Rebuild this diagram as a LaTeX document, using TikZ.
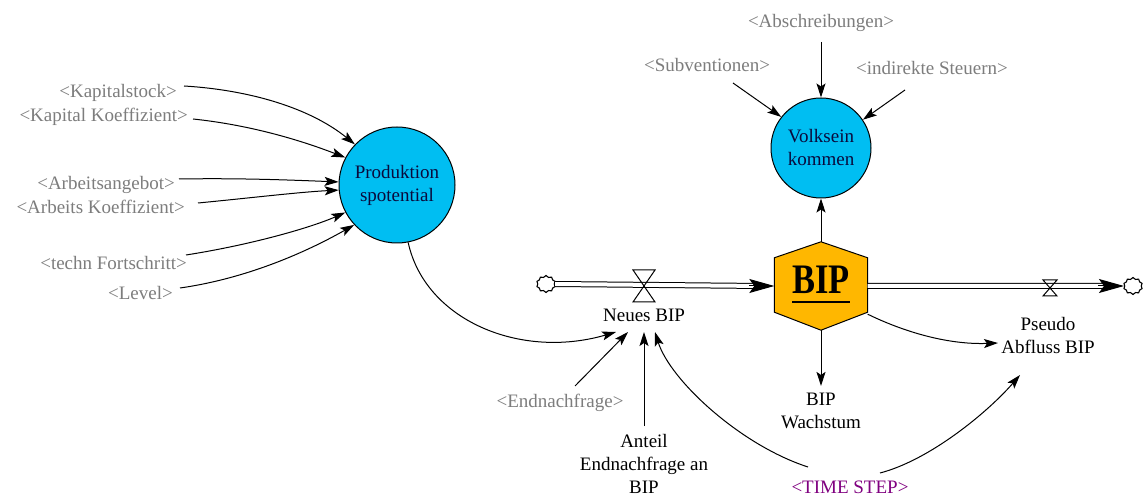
\documentclass[tikz,border=0pt]{standalone}
\usepackage{fontspec}
\setmainfont{Liberation Serif}
\usetikzlibrary{arrows.meta,shapes.symbols}
\definecolor{shadowtext}{RGB}{125,125,125}
\definecolor{auxblue}{RGB}{0,190,242}
\definecolor{stockgold}{RGB}{255,183,0}
\definecolor{timepurple}{RGB}{128,0,128}
\definecolor{auxtext}{RGB}{10,10,60}

\begin{document}
\begin{tikzpicture}[x=1pt,y=-1pt,
  every node/.style={font=\fontsize{19}{23}\selectfont, inner sep=0pt, align=center},
  shadow/.style={text=shadowtext},
  aux/.style={circle, draw, fill=auxblue, line width=1pt, text=auxtext},
  link/.style={draw, line width=1pt, -{Stealth[length=14pt,width=9pt,inset=3pt]}},
  pipe/.style={draw, double, double distance=4pt, line width=1pt},
  pipetip/.style={draw, line width=1pt, -{Stealth[length=25pt,width=14pt,inset=5pt]}},
  valve/.style={draw, line width=1pt},
  sink/.style={cloud, cloud puffs=10, cloud ignores aspect, draw, line width=1.1pt, minimum width=19pt, minimum height=17pt, inner sep=0pt}
]
\useasboundingbox (0,0) rectangle (1144,502);
\fill[white] (0,0) rectangle (1144,502);

% auxiliaries
\node[aux, minimum size=116pt] (pp) at (397,185) {Produktion\\spotential};
\node[aux, minimum size=100pt] (vk) at (821,148) {Volksein\\kommen};

% stock BIP as a hexagon
\node[minimum width=93pt, minimum height=88pt] (bip) at (821,286) {};
\draw[fill=stockgold, line width=1pt] (bip.north) -- ([yshift=-16pt]bip.north east)
  -- ([yshift=18pt]bip.south east) -- (bip.south) -- ([yshift=18pt]bip.south west)
  -- ([yshift=-16pt]bip.north west) -- cycle;
\node[font=\fontsize{42}{42}\selectfont\bfseries] (biptxt) at (821,280) {\scalebox{0.82}[1]{BIP}};
\draw[line width=2.5pt] ([yshift=-8pt]biptxt.south west) -- ([yshift=-8pt]biptxt.south east);

% sources and sinks
\node[sink] (cl) at (546,284) {};
\node[sink] (cr) at (1133,286) {};

% inflow pipe
\draw[pipe] (cl.east) -- ([xshift=-12pt]bip.west);
\draw[pipetip] ([xshift=-25pt]bip.west) -- (bip.west);
\coordinate (v1) at (644,286);
\draw[valve] ([shift={(-11,-16)}]v1) -- ([shift={(11,-16)}]v1) -- ([shift={(-11,16)}]v1) -- ([shift={(11,16)}]v1) -- cycle;
\node (nb) at (644,315) {Neues BIP};

% outflow pipe
\draw[pipe] (bip.east) -- ([xshift=-14pt]cr.west);
\draw[pipetip] ([xshift=-26pt]cr.west) -- (cr.west);
\coordinate (v2) at (1050,288);
\draw[valve] ([shift={(-7,-8)}]v2) -- ([shift={(7,-8)}]v2) -- ([shift={(-7,8)}]v2) -- ([shift={(7,8)}]v2) -- cycle;
\node (ps) at (1048,336) {Pseudo\\Abfluss BIP};

% shadow variables feeding Produktionspotential
\node[shadow, anchor=east] (kst) at (177,93) {<Kapitalstock>};
\node[shadow, anchor=east] (kko) at (188,117) {<Kapital Koeffizient>};
\node[shadow, anchor=east] (arb) at (175,185) {<Arbeitsangebot>};
\node[shadow, anchor=east] (ako) at (185,207) {<Arbeits Koeffizient>};
\node[shadow, anchor=east] (tfs) at (187,263) {<techn Fortschritt>};
\node[shadow, anchor=east] (lev) at (173,293) {<Level>};

\draw[link] ([shift={(7,-7)}]kst.east) .. controls (250,90) and (310,108) .. (pp.136);
\draw[link] ([shift={(5,2)}]kko.east) .. controls (250,125) and (300,140) .. (pp.152);
\draw[link] ([shift={(4,-6)}]arb.east) .. controls (240,178) and (290,180) .. (pp.177);
\draw[link] ([shift={(13,-4)}]ako.east) .. controls (250,198) and (300,192) .. (pp.185);
\draw[link] ([shift={(-1,-8)}]tfs.east) .. controls (250,245) and (310,228) .. (pp.208);
\draw[link] ([shift={(7,-5)}]lev.east) .. controls (250,278) and (310,250) .. (pp.223);

% shadow variables feeding Volkseinkommen
\node[shadow] (abs) at (821,23) {<Abschreibungen>};
\node[shadow] (sub) at (707,65) {<Subventionen>};
\node[shadow] (ist) at (932,68) {<indirekte Steuern>};
\draw[link] ([yshift=-10pt]abs.south) -- (vk.north);
\draw[link] ([shift={(26,18)}]sub.center) -- (vk.142);
\draw[link] ([shift={(-27,22)}]ist.center) -- (vk.34);

% BIP links
\draw[link] (bip.north) -- (vk.south);
\node (bw) at (821,411) {\fontsize{19}{18}\selectfont BIP\\Wachstum};
\draw[link] (bip.south) -- ([yshift=7pt]bw.north);
\draw[link] ([yshift=16pt]bip.south east) .. controls (900,330) and (945,345) .. ([shift={(-50,7)}]ps.center);

% inputs to Neues BIP
\node[shadow] (endn) at (560,403) {<Endnachfrage>};
\node (ant) at (644,464) {\fontsize{19}{24.5}\selectfont Anteil\\Endnachfrage an\\BIP};
\node[text=timepurple] (ts) at (850,487) {<TIME STEP>};

\draw[link] (pp.-79) .. controls (425,320) and (520,360) .. ([shift={(-28,17)}]nb.center);
\draw[link] ([shift={(15,-17)}]endn.center) -- ([shift={(-16,17)}]nb.center);
\draw[link] ([yshift=8pt]ant.north) -- ([shift={(0,17)}]nb.center);
\draw[link] ([shift={(-42,-20)}]ts.center) .. controls (740,445) and (670,380) .. ([shift={(11,17)}]nb.center);
\draw[link] ([shift={(30,-14)}]ts.center) .. controls (930,460) and (988,412) .. ([shift={(-28,39)}]ps.center);
\end{tikzpicture}
\end{document}
